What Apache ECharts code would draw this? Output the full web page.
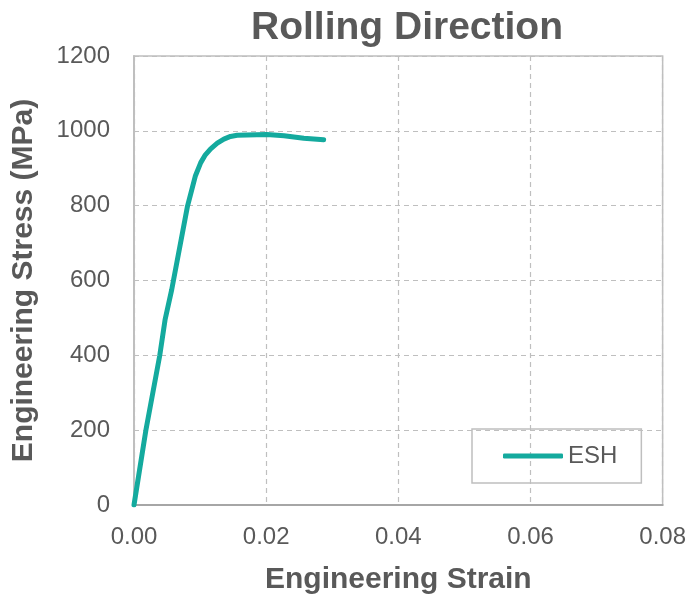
<!DOCTYPE html>
<html>
<head>
<meta charset="utf-8">
<script src="https://cdn.jsdelivr.net/npm/echarts@6/dist/echarts.min.js"></script>
<style>html,body{margin:0;padding:0;background:#fff}#c{width:689px;height:600px}</style>
</head>
<body>
<div id="c"></div>
<script>
const strain = [0, 0.0018, 0.0039, 0.0047, 0.0057, 0.0081, 0.0093, 0.0101, 0.0108, 0.0116, 0.0126, 0.0136, 0.0146, 0.0156, 0.0201, 0.0227, 0.0257, 0.0287];
const stress = [0, 200, 400, 495, 575, 799, 880, 915, 936, 952, 967, 978, 985, 988, 990, 987, 980, 976];
const xTicks = [0, 0.02, 0.04, 0.06, 0.08];
const yTicks = [0, 200, 400, 600, 800, 1000, 1200];
const seriesName = 'ESH';

const font = 'Arial, "Liberation Sans", sans-serif';
const textGray = '#595959';
const teal = '#14aa9e';
const chart = echarts.init(document.getElementById('c'));
chart.setOption({
  animation: false,
  backgroundColor: '#fff',
  title: {
    text: 'Rolling Direction', left: 402, top: 4, textAlign: 'center',
    textStyle: {fontFamily: font, fontSize: 39, fontWeight: 'bold', color: textGray}
  },
  grid: {left: 134, right: 26, top: 56, bottom: 94, show: true, borderColor: '#bfbfbf', borderWidth: 1.5},
  legend: {
    data: [seriesName], left: 472, top: 429, orient: 'vertical',
    borderColor: '#bfbfbf', borderWidth: 1.5, padding: [15, 24, 15, 31],
    icon: 'roundRect', itemWidth: 60, itemHeight: 5, itemGap: 5,
    textStyle: {fontFamily: font, fontSize: 24, color: textGray}
  },
  xAxis: {
    type: 'value', min: xTicks[0], max: xTicks[xTicks.length - 1], interval: 0.02,
    name: 'Engineering Strain', nameLocation: 'middle', nameGap: 60,
    nameTextStyle: {fontFamily: font, fontSize: 30, fontWeight: 'bold', color: textGray},
    axisLine: {show: true, lineStyle: {color: '#a6a6a6', width: 2}},
    axisTick: {show: false},
    axisLabel: {fontFamily: font, fontSize: 24, color: textGray, margin: 20, formatter: v => v.toFixed(2)},
    splitLine: {show: true, lineStyle: {color: '#bfbfbf', type: [5, 4], width: 1.2}}
  },
  yAxis: {
    type: 'value', min: yTicks[0], max: yTicks[yTicks.length - 1], interval: 200,
    name: 'Engineering Stress (MPa)', nameLocation: 'middle', nameGap: 95,
    nameTextStyle: {fontFamily: font, fontSize: 30, fontWeight: 'bold', color: textGray},
    axisLine: {show: true, lineStyle: {color: '#bfbfbf', width: 2}},
    axisTick: {show: false},
    axisLabel: {fontFamily: font, fontSize: 24, color: textGray, margin: 24, formatter: v => String(v)},
    splitLine: {show: true, lineStyle: {color: '#bfbfbf', type: [5, 4], width: 1.2}}
  },
  series: [{
    name: seriesName, type: 'line', data: strain.map((x, i) => [x, stress[i]]),
    showSymbol: false, symbol: 'none', smooth: false,
    lineStyle: {color: teal, width: 5, cap: 'round', join: 'round'},
    itemStyle: {color: teal}
  }]
});
</script>
</body>
</html>
